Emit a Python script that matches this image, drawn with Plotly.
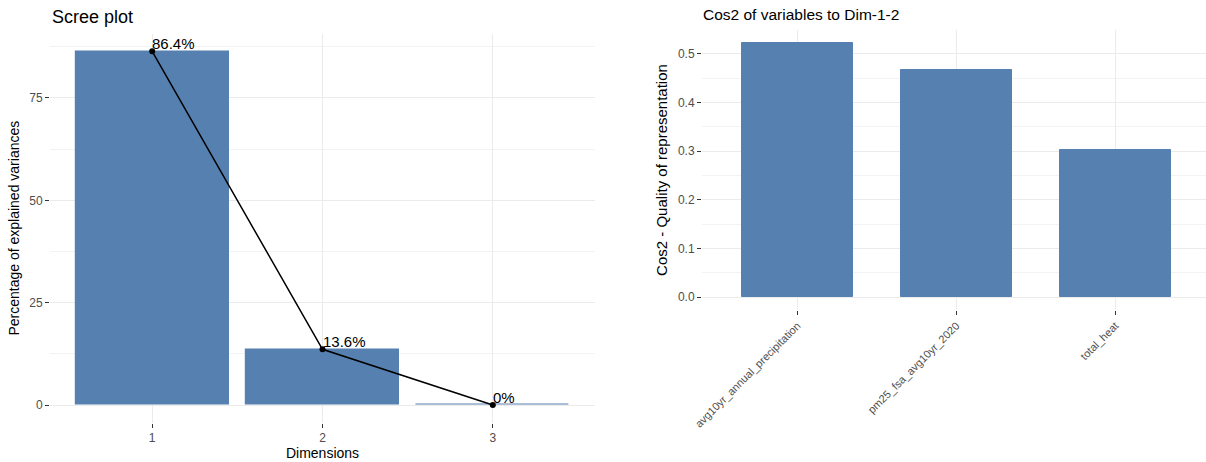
import plotly.graph_objects as go

# Scree plot data
dims = ["1", "2", "3"]
explained_var = [86.4, 13.6, 0.0]
explained_labels = ["86.4%", "13.6%", "0%"]

# Cos2 data
variables = ["avg10yr_annual_precipitation", "pm25_fsa_avg10yr_2020", "total_heat"]
cos2_values = [0.523, 0.467, 0.302]

W, H = 1206, 462
BAR = "#5680B0"
GRID = "#ebebeb"
FONT = "Liberation Sans, Arial, sans-serif"

def px_x(p):
    return p / W

def px_y(p):
    return 1 - p / H

fig = go.Figure()

fig.add_trace(go.Bar(x=dims, y=explained_var, marker=dict(color=BAR, line=dict(color=BAR, width=1.2)),
                     width=0.9, xaxis="x", yaxis="y", showlegend=False))
fig.add_trace(go.Scatter(x=dims, y=explained_var, mode="lines+markers",
                         line=dict(color="black", width=1.5), marker=dict(color="black", size=6),
                         xaxis="x", yaxis="y", showlegend=False, cliponaxis=False))
# label annotations: category axis positions are the category indices
for i, (v, lab) in enumerate(zip(explained_var, explained_labels)):
    fig.add_annotation(x=i, y=v, xref="x", yref="y", text=lab, showarrow=False,
                       xanchor="left", yanchor="bottom", xshift=-2, yshift=-3,
                       font=dict(size=15, color="black", family=FONT))

fig.add_trace(go.Bar(x=variables, y=cos2_values, marker=dict(color=BAR, line=dict(color=BAR, width=1)),
                     width=0.7, xaxis="x2", yaxis="y2", showlegend=False))

axis_common = dict(showline=False, zeroline=False, ticks="outside", ticklen=4, tickwidth=1,
                   tickcolor="#333333", gridcolor=GRID, gridwidth=1, automargin=False,
                   tickfont=dict(size=12, color="#4d4d4d", family=FONT),
                   title_font=dict(size=14, color="black", family=FONT))

fig.update_layout(
    template="none",
    width=W, height=H, margin=dict(l=0, r=0, t=0, b=0),
    paper_bgcolor="white", plot_bgcolor="white",
    font=dict(family=FONT),
    xaxis=dict(axis_common, domain=[px_x(50), px_x(595)], type="category", range=[-0.6, 2.6],
               showgrid=True, title=dict(text="Dimensions", standoff=2), anchor="y"),
    yaxis=dict(axis_common, domain=[px_y(422.7), px_y(33.6)], range=[-4.32, 90.72],
               tickvals=[0, 25, 50, 75], showgrid=True,
               minor=dict(tickvals=[12.5, 37.5, 62.5, 87.5], showgrid=True, gridcolor="#f3f3f3", ticks=""),
               title=dict(text="Percentage of explained variances", standoff=6), anchor="x"),
    xaxis2=dict(axis_common, domain=[px_x(702), 1.0], type="category", range=[-0.6, 2.57],
                showgrid=True, tickangle=-45, anchor="y2",
                tickfont=dict(size=11, color="#4d4d4d", family=FONT)),
    yaxis2=dict(axis_common, domain=[px_y(310), px_y(30)], range=[-0.0262, 0.549],
                tickvals=[0, 0.1, 0.2, 0.3, 0.4, 0.5], ticktext=["0.0", "0.1", "0.2", "0.3", "0.4", "0.5"],
                showgrid=True,
                minor=dict(tickvals=[0.05, 0.15, 0.25, 0.35, 0.45], showgrid=True, gridcolor="#f3f3f3", ticks=""),
                title=dict(text="Cos2 - Quality of representation", standoff=6,
                           font=dict(size=15, color="black", family=FONT)), anchor="x2"),
    bargap=0,
)

fig.add_annotation(text="Scree plot", x=px_x(50), y=px_y(17), xref="paper", yref="paper",
                   xanchor="left", yanchor="middle", showarrow=False,
                   font=dict(size=18, color="black", family=FONT))
fig.add_annotation(text="Cos2 of variables to Dim-1-2", x=px_x(701), y=px_y(15), xref="paper", yref="paper",
                   xanchor="left", yanchor="middle", showarrow=False,
                   font=dict(size=15.5, color="black", family=FONT))

fig.write_html("out.html", config={"displayModeBar": False},
               post_script="document.body.style.margin='0';document.body.style.overflow='hidden';")
